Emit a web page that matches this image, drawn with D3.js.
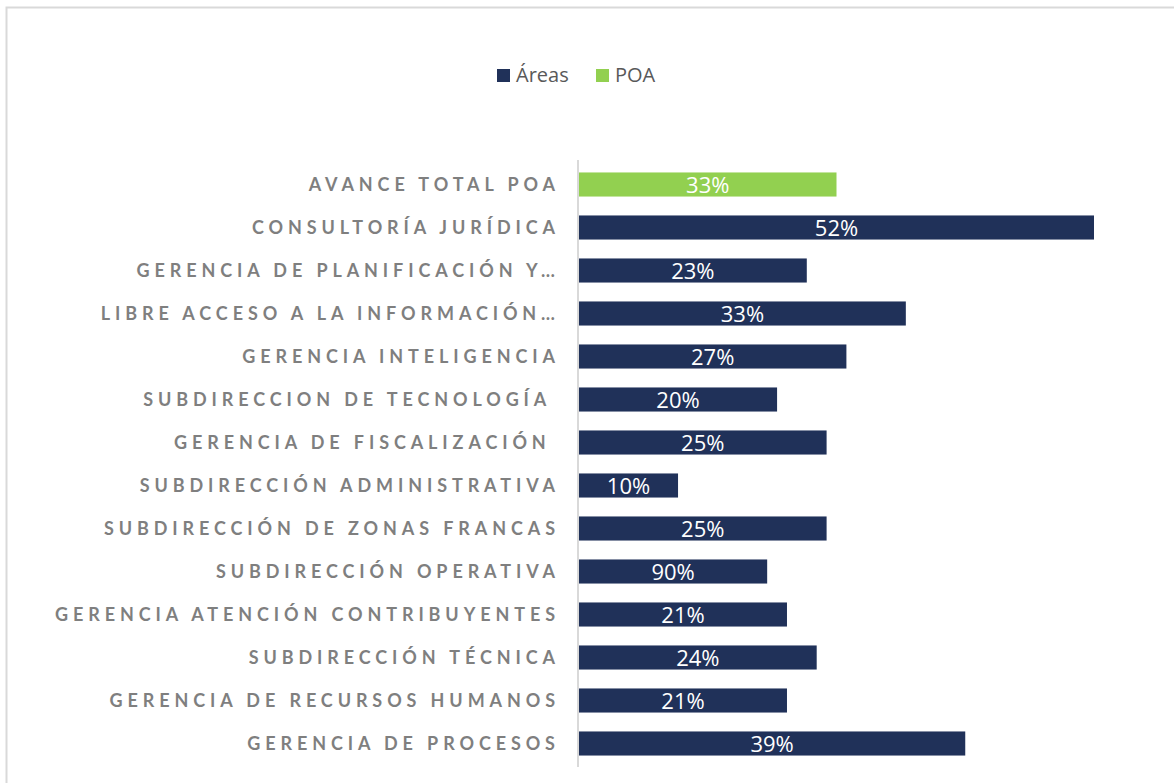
<!DOCTYPE html>
<html>
<head>
<meta charset="utf-8">
<script src="https://cdn.jsdelivr.net/npm/d3@7"></script>
<style>
  body { margin: 0; background: #fff; }
  .cat-label { font-family: Lato, "Open Sans", sans-serif; font-weight: 700; font-size: 18px; fill: #7f7f7f; white-space: pre; }
  .val-label { font-family: "Open Sans", Lato, sans-serif; font-size: 22px; fill: #fff; }
  .legend-text { font-family: "Open Sans", Lato, sans-serif; font-size: 20px; fill: #595959; }
</style>
</head>
<body>
<div id="chart"></div>
<script>
// categories top to bottom
const categories = [
  'AVANCE TOTAL POA',
  'CONSULTORÍA JURÍDICA',
  'GERENCIA DE PLANIFICACIÓN Y…',
  'LIBRE ACCESO A LA INFORMACIÓN…',
  'GERENCIA INTELIGENCIA',
  'SUBDIRECCION DE TECNOLOGÍA ',
  'GERENCIA DE FISCALIZACIÓN ',
  'SUBDIRECCIÓN ADMINISTRATIVA',
  'SUBDIRECCIÓN DE ZONAS FRANCAS',
  'SUBDIRECCIÓN OPERATIVA',
  'GERENCIA ATENCIÓN CONTRIBUYENTES',
  'SUBDIRECCIÓN TÉCNICA',
  'GERENCIA DE RECURSOS HUMANOS',
  'GERENCIA DE PROCESOS'
];
// bar lengths (percent) as drawn
const values = [26, 52, 23, 33, 27, 20, 25, 10, 25, 19, 21, 24, 21, 39];
// data labels as printed on the bars
const valueLabels = ['33%', '52%', '23%', '33%', '27%', '20%', '25%', '10%', '25%', '90%', '21%', '24%', '21%', '39%'];
const series = ['POA', 'Áreas', 'Áreas', 'Áreas', 'Áreas', 'Áreas', 'Áreas', 'Áreas', 'Áreas', 'Áreas', 'Áreas', 'Áreas', 'Áreas', 'Áreas'];
const legendItems = ['Áreas', 'POA'];

const colors = { 'Áreas': '#203159', 'POA': '#92d050' };

const width = 1174, height = 783;
const margin = { top: 163, left: 579, bottom: 16 };
const labelRight = 555;       // right edge of category text
const longestLabelWidth = 500; // width of the longest category label

const svg = d3.select('#chart').append('svg')
    .attr('width', width)
    .attr('height', height);

// chart frame (right and bottom edges fall outside the picture)
svg.append('rect')
    .attr('x', 6.5).attr('y', 7.5)
    .attr('width', 1200).attr('height', 800)
    .attr('fill', 'none')
    .attr('stroke', '#d9d9d9')
    .attr('stroke-width', 2);

const data = categories.map((c, i) => ({ cat: c, value: values[i], label: valueLabels[i], series: series[i] }));

const xScale = d3.scaleLinear()
    .domain([0, 52])
    .range([margin.left, 1094]);

const yScale = d3.scaleBand()
    .domain(categories)
    .range([margin.top, margin.top + 43 * categories.length])
    .paddingInner(0.44)
    .paddingOuter(0.22);

// bars
svg.selectAll('.bar')
    .data(data)
  .join('rect')
    .attr('class', 'bar')
    .attr('x', xScale(0))
    .attr('y', d => yScale(d.cat))
    .attr('width', d => xScale(d.value) - xScale(0))
    .attr('height', yScale.bandwidth())
    .attr('fill', d => colors[d.series]);

// value labels
svg.selectAll('.val-label')
    .data(data)
  .join('text')
    .attr('class', 'val-label')
    .attr('x', d => (xScale(0) + xScale(d.value)) / 2)
    .attr('y', d => yScale(d.cat) + yScale.bandwidth() / 2)
    .attr('dy', '0.37em')
    .attr('text-anchor', 'middle')
    .text(d => d.label);

// y axis
const axisX = margin.left - 1;
const yAxis = d3.axisLeft(yScale).tickSize(0).tickPadding(0);
const yAxisG = svg.append('g')
    .attr('transform', `translate(${axisX},0)`)
    .call(yAxis);
yAxisG.select('.domain')
    .attr('d', `M0,${margin.top - 3}V${height - margin.bottom}`)
    .attr('stroke', '#d9d9d9')
    .attr('stroke-width', 2);

const tickText = yAxisG.selectAll('.tick text')
    .attr('class', 'cat-label')
    .attr('dy', '0.36em')
    .attr('fill', null)
    .attr('font-family', null)
    .attr('font-size', null);

// wide letter spacing, sized so the longest label fills its space
let widest = null, widestW = 0;
tickText.each(function() {
  const w = this.getComputedTextLength();
  if (w > widestW) { widestW = w; widest = this; }
});
const nChars = widest.textContent.length;
const spacing = (longestLabelWidth - widestW) / (nChars - 1);
tickText
    .style('letter-spacing', spacing + 'px')
    .attr('x', labelRight - axisX + spacing);

// legend
const legend = svg.append('g').attr('transform', 'translate(497,69)');
const legendX = [0, 99];
legendItems.forEach((name, i) => {
  const g = legend.append('g').attr('transform', `translate(${legendX[i]},0)`);
  g.append('rect')
      .attr('width', 13).attr('height', 13)
      .attr('fill', colors[name]);
  g.append('text')
      .attr('class', 'legend-text')
      .attr('x', 19).attr('y', 12.5)
      .text(name);
});
</script>
</body>
</html>
